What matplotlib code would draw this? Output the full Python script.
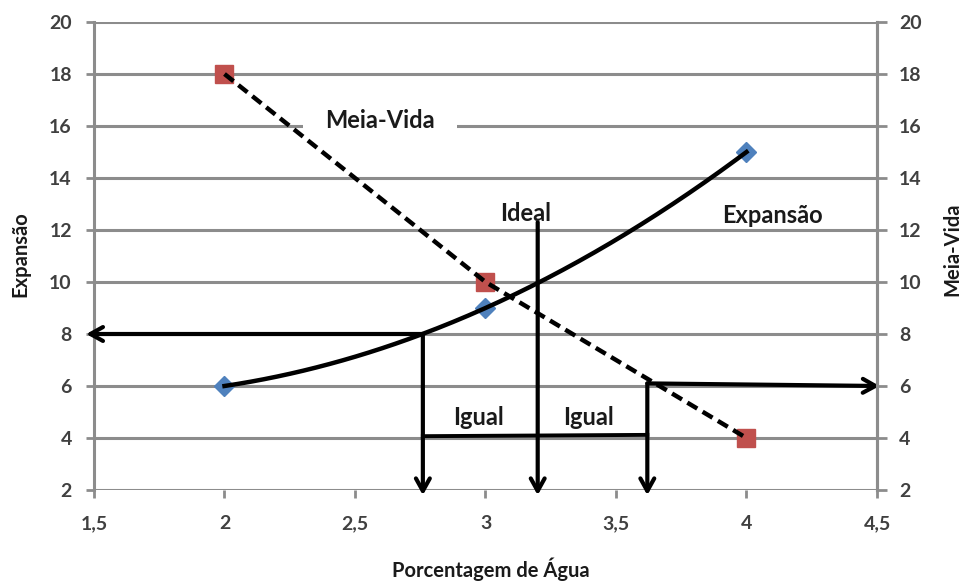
import numpy as np
import matplotlib
matplotlib.use("Agg")
import matplotlib.pyplot as plt

# ---- data ----
agua = [2, 3, 4]
expansao = [6, 9, 15]
meia_vida = [18, 10, 4]
x_ticks = [1.5, 2, 2.5, 3, 3.5, 4, 4.5]
x_tick_labels = ["1,5", "2", "2,5", "3", "3,5", "4", "4,5"]
y_ticks = [2, 4, 6, 8, 10, 12, 14, 16, 18, 20]

# annotation reading levels
exp_level = 8.0      # expansão lida
mv_level = 6.1       # meia-vida lida
x_exp = 2.76         # % água p/ expansão 8
x_mv = 3.62          # % água p/ meia-vida 6
x_ideal = 3.2
ideal_top = 12.3
igual_level = 4.12

plt.rcParams['font.family'] = ['Lato', 'DejaVu Sans']

fig = plt.figure(figsize=(9.62, 5.82), dpi=100)
ax = fig.add_axes([94/962, 1-490/582, (877-94)/962, (490-22)/582])
ax.set_xlim(1.5, 4.5)
ax.set_ylim(2, 20)

grid_c = "#8c8c8c"
lab_c = "#404040"
for yv in y_ticks:
    ax.axhline(yv, color=grid_c, lw=2.2, zorder=1)
for s in ["top", "bottom"]:
    ax.spines[s].set_visible(False)
for s in ["left", "right"]:
    ax.spines[s].set_color(grid_c)
    ax.spines[s].set_linewidth(2.2)

ax.set_xticks(x_ticks)
ax.set_xticklabels(x_tick_labels)
ax.set_yticks(y_ticks)
ax.tick_params(axis="y", colors=grid_c, length=6, width=2, labelsize=14, pad=10)
ax.tick_params(axis="x", colors=grid_c, length=6, width=2, labelsize=14, pad=12)
for lab in ax.get_xticklabels() + ax.get_yticklabels():
    lab.set_color(lab_c)
    lab.set_fontweight("bold")

ax2 = ax.twinx()
ax2.set_ylim(2, 20)
ax2.set_yticks(y_ticks)
for s in ["top", "bottom", "left"]:
    ax2.spines[s].set_visible(False)
ax2.spines["right"].set_color(grid_c)
ax2.spines["right"].set_linewidth(2.2)
ax2.tick_params(axis="y", colors=grid_c, length=7, width=2, labelsize=14, pad=9)
for lab in ax2.get_yticklabels():
    lab.set_color(lab_c)
    lab.set_fontweight("bold")

# smoothed expansion curve through the three points
coef = np.polyfit(agua, expansao, 2)
xs = np.linspace(agua[0], agua[-1], 200)
ax.plot(xs, np.polyval(coef, xs), color="black", lw=3.2, zorder=4)
ax.plot(agua, expansao, linestyle="none", marker="D", ms=10, color="#4F81BD", zorder=3)

# meia-vida dashed
ax.plot(agua, meia_vida, linestyle=(0, (2.6, 1.4)), color="black", lw=3.2, zorder=4)
ax.plot(agua, meia_vida, linestyle="none", marker="s", ms=13, color="#C0504D", zorder=3)

arr = dict(arrowstyle="->,head_length=0.9,head_width=0.5", color="black", lw=3, shrinkA=0, shrinkB=0)

# left reading arrow
ax.annotate("", xy=(1.47, exp_level), xytext=(x_exp, exp_level), arrowprops=arr, annotation_clip=False, zorder=5)
ax.annotate("", xy=(x_exp, 1.8), xytext=(x_exp, exp_level), arrowprops=arr, annotation_clip=False, zorder=5)
# right reading arrow
ax.annotate("", xy=(4.51, 6.0), xytext=(x_mv, mv_level), arrowprops=arr, annotation_clip=False, zorder=5)
ax.annotate("", xy=(x_mv, 1.8), xytext=(x_mv, mv_level), arrowprops=arr, annotation_clip=False, zorder=5)
# ideal
ax.annotate("", xy=(x_ideal, 1.8), xytext=(x_ideal, ideal_top), arrowprops=arr, annotation_clip=False, zorder=5)
# igual bar
ax.plot([x_exp, x_mv], [igual_level - 0.05, igual_level], color="black", lw=2.8, zorder=5)

tk = dict(fontsize=17, fontweight="bold", color="#1a1a1a")
ax.text(2.975, 4.5, "Igual", ha="center", va="baseline", zorder=6, **tk)
ax.text(3.393, 4.5, "Igual", ha="center", va="baseline", zorder=6, **tk)
ax.text(3.155, 12.35, "Ideal", ha="center", va="baseline", zorder=6, **tk)
ax.text(4.10, 12.27, "Expansão", ha="center", va="baseline", zorder=6, **tk)
ax.text(2.596, 16.2, "Meia-Vida", ha="center", va="center", zorder=2,
        bbox=dict(boxstyle="square,pad=0.95", fc="white", ec="none"), **tk)

fig.text(491/962, 1-577/582, "Porcentagem de Água", fontsize=14.5, fontweight="bold",
         color="#1a1a1a", ha="center", va="baseline")
fig.text(20/962, 1-254/582, "Expansão", fontsize=14.5, fontweight="bold",
         color="#1a1a1a", ha="center", va="center", rotation=90)
fig.text(952/962, 1-249/582, "Meia-Vida", fontsize=14.5, fontweight="bold",
         color="#1a1a1a", ha="center", va="center", rotation=90)

fig.savefig("out.png", dpi=100, facecolor="white")
